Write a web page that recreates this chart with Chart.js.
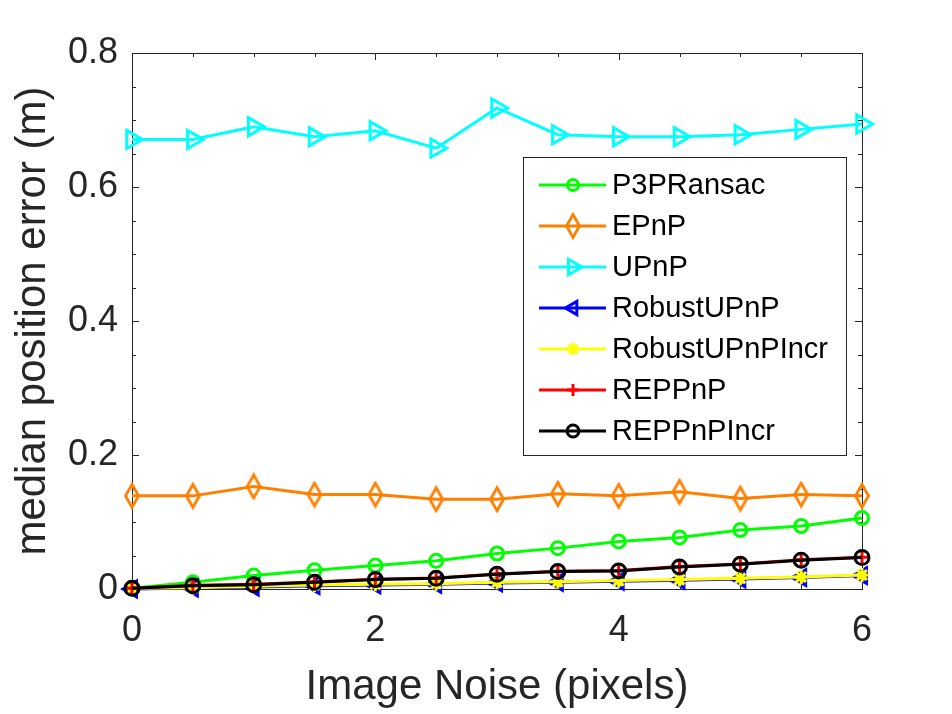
<!DOCTYPE html>
<html>
<head>
<meta charset="utf-8">
<script src="https://cdn.jsdelivr.net/npm/chart.js@4.4.0/dist/chart.umd.min.js"></script>
<style>
  html, body { margin: 0; padding: 0; background: #fff; }
  .graph { width: 952px; height: 714px; }
</style>
</head>
<body>
<div class="graph"><canvas id="graphContainer" width="952" height="714"></canvas></div>
<script>
// x values: image noise in pixels
const noise = [0, 0.5, 1, 1.5, 2, 2.5, 3, 3.5, 4, 4.5, 5, 5.5, 6];

// median position error (m)
const p3pRansac = [0.001, 0.010, 0.020, 0.028, 0.035, 0.042, 0.053, 0.061, 0.071, 0.077, 0.088, 0.094, 0.106];
const epnp = [0.139, 0.139, 0.153, 0.141, 0.141, 0.134, 0.134, 0.142, 0.139, 0.145, 0.135, 0.141, 0.139];
const upnp = [0.671, 0.671, 0.690, 0.675, 0.684, 0.658, 0.718, 0.678, 0.675, 0.675, 0.678, 0.686, 0.694];
const robustUpnp = [0.000, 0.0015, 0.003, 0.005, 0.006, 0.007, 0.009, 0.010, 0.0115, 0.013, 0.015, 0.017, 0.020];
const robustUpnpIncr = [0.001, 0.002, 0.004, 0.006, 0.007, 0.008, 0.010, 0.011, 0.0125, 0.014, 0.016, 0.018, 0.021];
const reppnp = [0.001, 0.0055, 0.007, 0.0105, 0.0145, 0.0165, 0.0225, 0.0265, 0.0275, 0.0335, 0.0375, 0.0435, 0.0475];
const reppnpIncr = [0.001, 0.005, 0.0065, 0.010, 0.014, 0.016, 0.022, 0.026, 0.027, 0.033, 0.037, 0.043, 0.047];

const seriesNames = ["P3PRansac", "EPnP", "UPnP", "RobustUPnP", "RobustUPnPIncr", "REPPnP", "REPPnPIncr"];
const seriesValues = [p3pRansac, epnp, upnp, robustUpnp, robustUpnpIncr, reppnp, reppnpIncr];

// tick labels
const xTicks = [0, 2, 4, 6];
const xTickLabels = ["0", "2", "4", "6"];
const yTicks = [0, 0.2, 0.4, 0.6, 0.8];
const yTickLabels = ["0", "0.2", "0.4", "0.6", "0.8"];

const FONT = "'Liberation Sans', Arial, Helvetica, sans-serif";
const TEXT = "#262626";

// matlab style diamond is taller than wide, so it gets its own little canvas
function diamond(color) {
  const c = document.createElement("canvas");
  c.width = 20;
  c.height = 28;
  const g = c.getContext("2d");
  g.strokeStyle = color;
  g.lineWidth = 2.8;
  g.beginPath();
  g.moveTo(10, 2.5);
  g.lineTo(16.5, 14);
  g.lineTo(10, 25.5);
  g.lineTo(3.5, 14);
  g.closePath();
  g.stroke();
  return c;
}

const markers = [
  { color: "#00ff00", pointStyle: "circle", radius: 6.5, rotation: 0 },
  { color: "#ff8000", pointStyle: diamond("#ff8000"), radius: 10, rotation: 0 },
  { color: "#00ffff", pointStyle: "triangle", radius: 10.5, rotation: 90 },
  { color: "#0000ff", pointStyle: "triangle", radius: 9, rotation: 270 },
  { color: "#ffff00", pointStyle: "star", radius: 7, rotation: 0 },
  { color: "#ff0000", pointStyle: "cross", radius: 7, rotation: 0 },
  { color: "#000000", pointStyle: "circle", radius: 7, rotation: 0 },
];

const datasets = seriesNames.map((name, i) => ({
  label: name,
  data: noise.map((x, j) => ({ x: x, y: seriesValues[i][j] })),
  borderColor: markers[i].color,
  borderWidth: 3,
  pointStyle: markers[i].pointStyle,
  pointRadius: markers[i].radius,
  pointRotation: markers[i].rotation,
  pointBorderColor: markers[i].color,
  pointBackgroundColor: "rgba(0,0,0,0)",
  pointBorderWidth: 3,
  tension: 0,
  clip: false,
  order: seriesNames.length - 1 - i, // later series on top, like matlab
}));

// box round the axes with inward ticks on all four sides
const axesBox = {
  id: "axesBox",
  beforeDatasetsDraw(chart) {
    const ctx = chart.ctx;
    const a = chart.chartArea;
    const xs = chart.scales.x;
    const ys = chart.scales.y;
    ctx.save();
    ctx.strokeStyle = TEXT;
    ctx.lineWidth = 1;
    ctx.strokeRect(a.left + 0.5, a.top + 0.5, a.right - a.left, a.bottom - a.top);
    ctx.beginPath();
    for (let v = xs.min; v <= xs.max + 1e-9; v += 0.5) {
      const len = xTicks.includes(Math.round(v * 10) / 10) ? 7 : 4;
      const px = Math.round(xs.getPixelForValue(v)) + 0.5;
      ctx.moveTo(px, a.bottom);
      ctx.lineTo(px, a.bottom - len);
      ctx.moveTo(px, a.top);
      ctx.lineTo(px, a.top + len);
    }
    for (let k = 0; k <= 16; k++) {
      const v = k * 0.05;
      const len = k % 4 == 0 ? 7 : 4;
      const py = Math.round(ys.getPixelForValue(v)) + 0.5;
      ctx.moveTo(a.left, py);
      ctx.lineTo(a.left + len, py);
      ctx.moveTo(a.right, py);
      ctx.lineTo(a.right - len, py);
    }
    ctx.stroke();
    ctx.restore();
  },
};

// legend box inside the plot, line sample with marker in the middle
const insideLegend = {
  id: "insideLegend",
  afterDatasetsDraw(chart) {
    const ctx = chart.ctx;
    const box = { left: 523, top: 157, right: 846, bottom: 455 };
    ctx.save();
    ctx.fillStyle = "#ffffff";
    ctx.fillRect(box.left, box.top, box.right - box.left, box.bottom - box.top);
    ctx.strokeStyle = TEXT;
    ctx.lineWidth = 1;
    ctx.strokeRect(box.left + 0.5, box.top + 0.5, box.right - box.left, box.bottom - box.top);

    ctx.font = "29px " + FONT;
    ctx.textBaseline = "middle";
    ctx.textAlign = "left";
    chart.data.datasets.forEach((ds, i) => {
      const y = 185 + i * 41;
      ctx.strokeStyle = ds.borderColor;
      ctx.lineWidth = 3;
      ctx.beginPath();
      ctx.moveTo(539, y);
      ctx.lineTo(606, y);
      ctx.stroke();
      ctx.fillStyle = "rgba(0,0,0,0)";
      ctx.strokeStyle = ds.pointBorderColor;
      if (Chart.helpers && Chart.helpers.drawPoint) {
        Chart.helpers.drawPoint(ctx, {
          pointStyle: ds.pointStyle,
          radius: ds.pointRadius * 0.85,
          rotation: ds.pointRotation,
          borderWidth: ds.pointBorderWidth,
        }, 573, y);
      }
      ctx.fillStyle = "#000000";
      ctx.fillText(ds.label, 612, y + 1);
    });
    ctx.restore();
  },
};

new Chart(document.getElementById("graphContainer"), {
  type: "line",
  data: { datasets: datasets },
  plugins: [axesBox, insideLegend],
  options: {
    responsive: false,
    devicePixelRatio: 1,
    animation: false,
    events: [],
    layout: {
      padding: { left: 0, right: 90, top: 53, bottom: 0 },
    },
    scales: {
      x: {
        type: "linear",
        min: 0,
        max: 6,
        afterBuildTicks: (s) => { s.ticks = xTicks.map((v) => ({ value: v })); },
        afterFit: (s) => { s.height = 125; },
        grid: { display: false, drawTicks: false },
        border: { display: false },
        ticks: {
          color: TEXT,
          font: { family: FONT, size: 36 },
          padding: 20,
          maxRotation: 0,
          autoSkip: false,
          callback: (v) => xTickLabels[xTicks.indexOf(v)],
        },
        title: {
          display: true,
          text: "Image Noise (pixels)",
          color: TEXT,
          font: { family: FONT, size: 42 },
          padding: { top: 0, bottom: 1 },
        },
      },
      y: {
        type: "linear",
        min: 0,
        max: 0.8,
        afterBuildTicks: (s) => { s.ticks = yTicks.map((v) => ({ value: v })); },
        afterFit: (s) => { s.width = 132; },
        grid: { display: false, drawTicks: false },
        border: { display: false },
        ticks: {
          color: TEXT,
          font: { family: FONT, size: 36 },
          padding: 14,
          autoSkip: false,
          callback: (v) => yTickLabels[yTicks.indexOf(v)],
        },
        title: {
          display: true,
          text: "median position error (m)",
          color: TEXT,
          font: { family: FONT, size: 42 },
          padding: { top: 8, bottom: 0 },
        },
      },
    },
    plugins: {
      legend: { display: false },
      tooltip: { enabled: false },
    },
  },
});
</script>
</body>
</html>
